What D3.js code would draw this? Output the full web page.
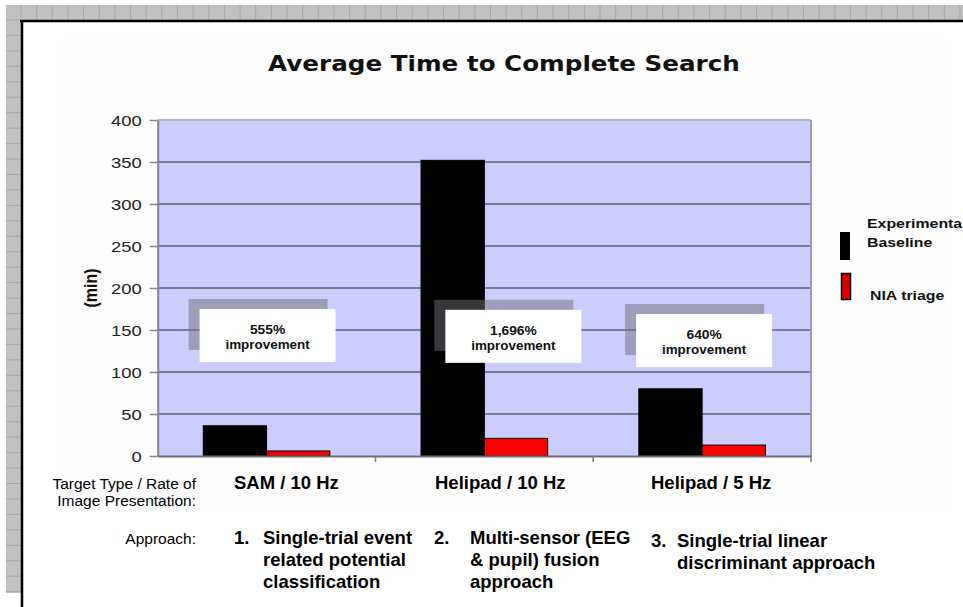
<!DOCTYPE html>
<html>
<head>
<meta charset="utf-8">
<script src="https://cdn.jsdelivr.net/npm/d3@7"></script>
<style>
  html, body { margin: 0; padding: 0; background: #fff; overflow: hidden; }
  svg { display: block; }
  text { font-family: "Liberation Sans", Arial, sans-serif; }
</style>
</head>
<body>
<svg id="chart" width="963" height="607"></svg>
<script>
// ---- data ----
const categories = ["SAM / 10 Hz", "Helipad / 10 Hz", "Helipad / 5 Hz"];
const seriesNames = ["Experimental Baseline", "NIA triage"];
const baselineMinutes = [36, 352, 80];
const niaTriageMinutes = [6, 21, 13];
const improvementLabels = ["555%", "1,696%", "640%"];
const yTickValues = [0, 50, 100, 150, 200, 250, 300, 350, 400];
const approachNumbers = ["1.", "2.", "3."];
const approachLines = [
  ["Single-trial event", "related potential", "classification"],
  ["Multi-sensor (EEG", "& pupil) fusion", "approach"],
  ["Single-trial linear", "discriminant approach"]
];
const rowHeaders = [["Target Type / Rate of", "Image Presentation:"], ["Approach:"]];
const chartTitle = "Average Time to Complete Search";
const yAxisTitle = "(min)";

// ---- layout ----
const W = 963, H = 607;
const plot = { left: 157.7, right: 811, top: 120, bottom: 456 };
const SX = 1.27;            // horizontal stretch of the embedded chart lettering
const seriesColors = ["#000000", "#ff0000"];

const svg = d3.select("#chart");

// spreadsheet frame: grey header strips with cell dividers
const sheet = svg.append("g");
sheet.append("rect").attr("x", 6).attr("y", 5).attr("width", W - 6).attr("height", 15).attr("fill", "#c0c0c0");
sheet.append("rect").attr("x", 6).attr("y", 5).attr("width", 15).attr("height", 588).attr("fill", "#c0c0c0");
sheet.selectAll("line.col").data(d3.range(21, W, 15.65)).join("line")
  .attr("x1", d => d).attr("x2", d => d).attr("y1", 5).attr("y2", 20)
  .attr("stroke", "#a6a6a6").attr("stroke-width", 1);
sheet.selectAll("line.row").data(d3.range(20, 593, 15.45)).join("line")
  .attr("x1", 6).attr("x2", 21).attr("y1", d => d).attr("y2", d => d)
  .attr("stroke", "#a6a6a6").attr("stroke-width", 1);
sheet.append("line").attr("x1", 20).attr("x2", W).attr("y1", 21).attr("y2", 21)
  .attr("stroke", "#000").attr("stroke-width", 2.5);
sheet.append("line").attr("x1", 22).attr("x2", 22).attr("y1", 20).attr("y2", H)
  .attr("stroke", "#000").attr("stroke-width", 2.5);

// faint backdrop of the chart object
svg.append("rect").attr("x", 62).attr("y", 34).attr("width", 884).attr("height", 479).attr("fill", "#fdfdfd");

// ---- scales ----
const x = d3.scaleBand().domain(categories).range([plot.left, plot.right]).paddingInner(0).paddingOuter(0);
const xSeries = d3.scaleBand().domain(seriesNames).range([0, x.bandwidth()]).paddingInner(0).paddingOuter(0.72);
const y = d3.scaleLinear().domain([0, 400]).range([plot.bottom, plot.top]);

// plot area
svg.append("rect").attr("x", plot.left).attr("y", plot.top)
  .attr("width", plot.right - plot.left).attr("height", plot.bottom - plot.top)
  .attr("fill", "#ccccff");

// gridlines
svg.append("g").selectAll("line").data(yTickValues.filter(v => v > 0)).join("line")
  .attr("x1", plot.left).attr("x2", plot.right)
  .attr("y1", d => y(d)).attr("y2", d => y(d))
  .attr("stroke", d => d === 400 ? "#b4b4c4" : "#7a7a94").attr("stroke-width", 1.9);

// right edge of plot area
svg.append("line").attr("x1", plot.right).attr("x2", plot.right).attr("y1", plot.top).attr("y2", plot.bottom)
  .attr("stroke", "#9a9aac").attr("stroke-width", 2);

// ---- bars ----
const rows = categories.map((c, i) => ({ cat: c, values: [baselineMinutes[i], niaTriageMinutes[i]] }));
const groups = svg.append("g").selectAll("g").data(rows).join("g")
  .attr("transform", d => `translate(${x(d.cat)},0)`);
groups.selectAll("rect").data(d => d.values.map((v, j) => ({ v, s: seriesNames[j], j }))).join("rect")
  .attr("x", d => xSeries(d.s))
  .attr("y", d => y(d.v))
  .attr("width", xSeries.bandwidth())
  .attr("height", d => y(0) - y(d.v))
  .attr("fill", d => seriesColors[d.j])
  .attr("stroke", "#000").attr("stroke-width", 1);

// ---- axes ----
const yAxis = svg.append("g").attr("transform", `translate(${plot.left},0)`)
  .call(d3.axisLeft(y).tickValues(yTickValues).tickSize(8).tickPadding(0).tickSizeOuter(0));
yAxis.select(".domain").attr("stroke", "#858585").attr("stroke-width", 2);
yAxis.selectAll(".tick line").attr("stroke", "#858585").attr("stroke-width", 1.5);
yAxis.selectAll(".tick text")
  .attr("x", 0).attr("dy", "0.36em")
  .attr("transform", `translate(-16,0) scale(${SX},1)`)
  .style("font-family", "'Liberation Sans', Arial, sans-serif")
  .style("font-size", "14.5px").attr("fill", "#222");

const xAxis = svg.append("g").attr("transform", `translate(0,${plot.bottom})`)
  .call(d3.axisBottom(x).tickSize(0).tickFormat(""));
xAxis.select(".domain").attr("stroke", "#6e6e6e").attr("stroke-width", 2);
// category separators below the axis
svg.append("g").selectAll("line").data(categories.slice(1).map(c => x(c)).concat([plot.right])).join("line")
  .attr("x1", d => d).attr("x2", d => d).attr("y1", plot.bottom).attr("y2", plot.bottom + 6)
  .attr("stroke", "#7a7a7a").attr("stroke-width", 1.5);

// axis title
svg.append("text")
  .attr("transform", `translate(97,${y(200)}) rotate(-90) scale(1,1.2)`)
  .attr("text-anchor", "middle")
  .style("font-size", "16px").style("font-weight", "bold").attr("fill", "#111")
  .text(yAxisTitle);

// chart title, fitted to its width
const title = svg.append("text")
  .style("font-family", "'DejaVu Sans', Verdana, sans-serif")
  .style("font-size", "22px").style("font-weight", "bold").attr("fill", "#111")
  .attr("text-anchor", "middle").text(chartTitle);
const tw = title.node().getComputedTextLength();
title.attr("transform", `translate(504,71) scale(${472 / tw},1)`);

// ---- improvement call-outs ----
const boxShift = [-67, -39, -66];
const boxTopValue = [175, 174, 169];
const boxW = 136, boxH = 53;
const callouts = svg.append("g").selectAll("g").data(improvementLabels).join("g")
  .attr("transform", (d, i) => `translate(${x(categories[i]) + x.bandwidth() / 2 + boxShift[i]},${y(boxTopValue[i])})`);
callouts.append("rect").attr("x", -11).attr("y", -10).attr("width", boxW + 3).attr("height", boxH - 2)
  .attr("fill", "rgba(112,112,120,0.5)");
callouts.append("rect").attr("x", 0).attr("y", 0).attr("width", boxW).attr("height", boxH).attr("fill", "#fff");
callouts.append("text").attr("transform", `translate(${boxW / 2},25) scale(1.15,1)`)
  .attr("text-anchor", "middle").style("font-size", "12px").style("font-weight", "bold").attr("fill", "#111")
  .text(d => d);
callouts.append("text").attr("transform", `translate(${boxW / 2},40) scale(1.12,1)`)
  .attr("text-anchor", "middle").style("font-size", "12px").style("font-weight", "bold").attr("fill", "#111")
  .text("improvement");

// ---- legend ----
const legend = svg.append("g");
legend.append("rect").attr("x", 840).attr("y", 232).attr("width", 10).attr("height", 28).attr("fill", "#000");
legend.append("rect").attr("x", 841.5).attr("y", 273.5).attr("width", 9).attr("height", 26)
  .attr("fill", "#d40000").attr("stroke", "#000").attr("stroke-width", 1.5);
const legendLabels = [["Experimental", "Baseline"], [seriesNames[1]]];
legend.append("text").attr("transform", `translate(867,228) scale(1.22,1)`)
  .style("font-size", "13px").style("font-weight", "bold").attr("fill", "#111").text(legendLabels[0][0]);
legend.append("text").attr("transform", `translate(867,247) scale(1.22,1)`)
  .style("font-size", "13px").style("font-weight", "bold").attr("fill", "#111").text(legendLabels[0][1]);
legend.append("text").attr("transform", `translate(870,300) scale(1.22,1)`)
  .style("font-size", "13px").style("font-weight", "bold").attr("fill", "#111").text(legendLabels[1][0]);

// ---- table below the chart ----
const notes = svg.append("g").attr("fill", "#000");
notes.selectAll("text.hdr1").data(rowHeaders[0]).join("text")
  .attr("x", 196).attr("y", (d, i) => 488.5 + i * 17)
  .attr("text-anchor", "end").style("font-size", "15.5px").text(d => d);
notes.append("text").attr("x", 196).attr("y", 543.5)
  .attr("text-anchor", "end").style("font-size", "15.5px").text(rowHeaders[1][0]);

const catLabelX = [234, 435, 651];
notes.selectAll("text.cat").data(categories).join("text")
  .attr("x", (d, i) => catLabelX[i]).attr("y", 488.5)
  .style("font-size", "18.5px").style("font-weight", "bold").text(d => d);

const numX = [234, 434, 651], textX = [263, 470, 677], firstLine = [544, 544, 546.5];
approachLines.forEach((lines, i) => {
  notes.append("text").attr("x", numX[i]).attr("y", firstLine[i])
    .style("font-size", "18.5px").style("font-weight", "bold").text(approachNumbers[i]);
  notes.selectAll(null).data(lines).join("text")
    .attr("x", textX[i]).attr("y", (d, k) => firstLine[i] + k * 22)
    .style("font-size", "18.5px").style("font-weight", "bold").text(d => d);
});
</script>
</body>
</html>
